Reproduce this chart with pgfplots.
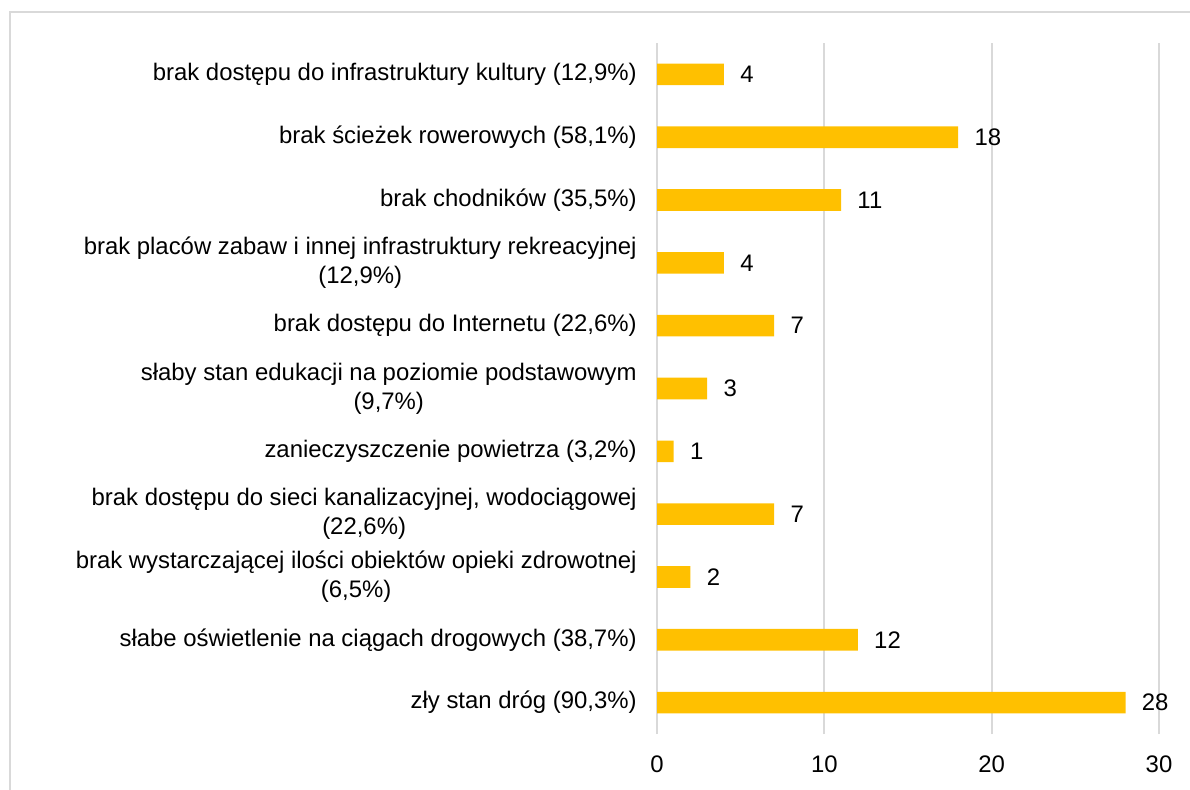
\documentclass[border=0pt]{standalone}
\usepackage{pgfplots}
\pgfplotsset{compat=1.18}
\usepackage{fontspec}
\setmainfont{Liberation Sans}
\definecolor{barc}{HTML}{FFC000}
\definecolor{gridc}{HTML}{D9D9D9}
\begin{document}
\begin{tikzpicture}[x=1bp,y=1bp]
\path[use as bounding box] (0,0) rectangle (595,394.5);
\draw[gridc, line width=1bp] (5,-10) -- (5,388.5) -- (610,388.5);
\begin{axis}[
  at={(328.5bp,27.5bp)}, anchor=south west,
  scale only axis, width=251bp, height=345.5bp,
  xbar, bar width=10.8bp,
  xmin=0, xmax=30, ymin=-0.5, ymax=10.5,
  xtick={0,10,20,30},
  ytick={0,...,10},
  yticklabels={
    zły stan dróg (90{,}3\%),
    słabe oświetlenie na ciągach drogowych (38{,}7\%),
    {brak wystarczającej ilości obiektów opieki zdrowotnej\\(6{,}5\%)},
    {brak dostępu do sieci kanalizacyjnej, wodociągowej\\(22{,}6\%)},
    zanieczyszczenie powietrza (3{,}2\%),
    {słaby stan edukacji na poziomie podstawowym\\(9{,}7\%)},
    brak dostępu do Internetu (22{,}6\%),
    {brak placów zabaw i innej infrastruktury rekreacyjnej\\(12{,}9\%)},
    brak chodników (35{,}5\%),
    brak ścieżek rowerowych (58{,}1\%),
    brak dostępu do infrastruktury kultury (12{,}9\%)
  },
  axis line style={draw=none},
  major tick length=0pt,
  xmajorgrids, grid style={gridc, line width=1bp},
  /pgf/number format/assume math mode=true,
  tick label style={font=\fontsize{12}{14.5}\selectfont, text=black},
  yticklabel style={align=center, anchor=east, inner sep=0pt, xshift=-10bp},
  xticklabel style={anchor=north, inner sep=0pt, yshift=-10.5bp},
  nodes near coords,
  every node near coord/.append style={font=\fontsize{12}{14.5}\selectfont, anchor=west, inner sep=0pt, xshift=8bp, text=black},
  clip=false,
]
\addplot[fill=barc, draw=none] coordinates {
  (28,0) (12,1) (2,2) (7,3) (1,4) (3,5) (7,6) (4,7) (11,8) (18,9) (4,10)
};
\end{axis}
\end{tikzpicture}
\end{document}
